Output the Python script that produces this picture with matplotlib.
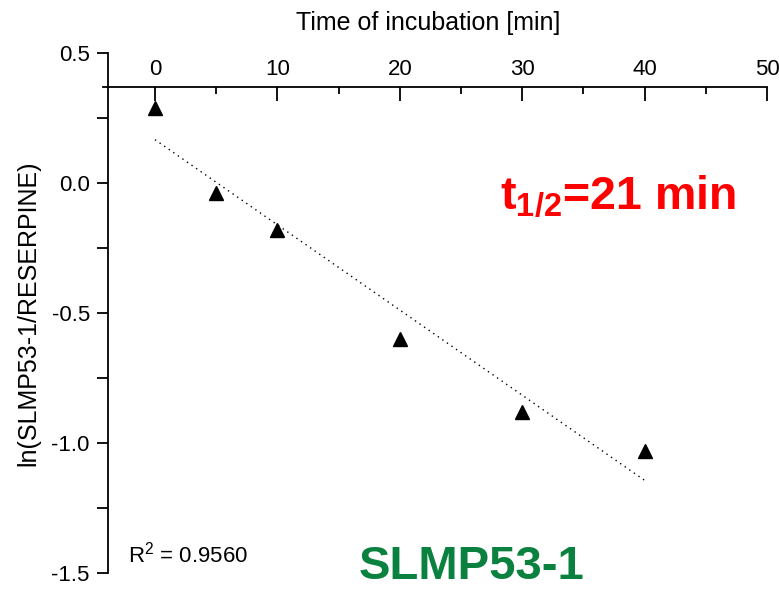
import matplotlib.pyplot as plt
import numpy as np
from matplotlib.ticker import MultipleLocator

plt.rcParams['font.family'] = ['Liberation Sans', 'DejaVu Sans']
plt.rcParams['mathtext.fontset'] = 'custom'
plt.rcParams['mathtext.rm'] = 'Liberation Sans'
plt.rcParams['mathtext.it'] = 'Liberation Sans:italic'
plt.rcParams['mathtext.bf'] = 'Liberation Sans:bold'

# data
time_min = np.array([0, 5, 10, 20, 30, 40])
ln_ratio = np.array([0.29, -0.04, -0.18, -0.60, -0.88, -1.03])
r_squared = "0.9560"
half_life = "21"
compound = "SLMP53-1"

fig = plt.figure(figsize=(7.79, 5.89), dpi=100)
ax = fig.add_axes([0.1322, 0.0272, 0.8524, 0.8828])

ax.plot(time_min, ln_ratio, '^', color='black', markersize=10, zorder=3)

# linear fit through the points
slope, intercept = np.polyfit(time_min, ln_ratio, 1)
fit_x = np.array([time_min.min(), time_min.max()])
ax.plot(fit_x, slope * fit_x + intercept, color='black', linestyle=(0, (1, 3)), linewidth=1)

ax.set_xlim(-4.25, 50)
ax.set_ylim(-1.5, 0.5)

# Origin-like axes: x axis on top crossing at y~0.37, y spine a bit right of the left edge
ax.spines['right'].set_visible(False)
ax.spines['bottom'].set_visible(False)
ax.spines['top'].set_position(('data', 0.37))
ax.spines['left'].set_position(('data', -3.85))
for s in ['top', 'left']:
    ax.spines[s].set_linewidth(1.3)
ax.spines['top'].set_bounds(-4.25, 50)

ax.xaxis.set_ticks_position('top')
ax.xaxis.set_label_position('top')
ax.set_xticks([0, 10, 20, 30, 40, 50])
ax.xaxis.set_minor_locator(MultipleLocator(5))
ax.tick_params(axis='x', which='major', direction='in', length=10, width=1.3, labelsize=16, pad=5)
ax.tick_params(axis='x', which='minor', direction='in', length=5, width=1.3)

ax.yaxis.set_major_locator(MultipleLocator(0.5))
ax.yaxis.set_minor_locator(MultipleLocator(0.25))
ax.yaxis.set_major_formatter(plt.FormatStrFormatter('%.1f'))
ax.tick_params(axis='y', which='both', direction='out', length=8, width=1.3, labelsize=16, pad=5)

ax.set_xlabel('Time of incubation [min]', fontsize=18)
ax.set_ylabel('ln(SLMP53-1/RESERPINE)', fontsize=18)
ax.xaxis.set_label_coords(0.49, 1.044)
ax.yaxis.set_label_coords(-0.095, 0.5)

ax.text(0.598, 0.70, r'$\mathbf{t_{1/2}}$=' + half_life + ' min', transform=ax.transAxes,
        color='red', fontsize=33.5, fontweight='bold')
ax.text(0.038, 0.02, r'R$^2$ = ' + r_squared, transform=ax.transAxes, fontsize=16)
ax.text(0.555, -0.012, compound, transform=ax.transAxes, color='#0b8140',
        fontsize=34, fontweight='bold', ha='center')

fig.savefig('out.png', dpi=100)
